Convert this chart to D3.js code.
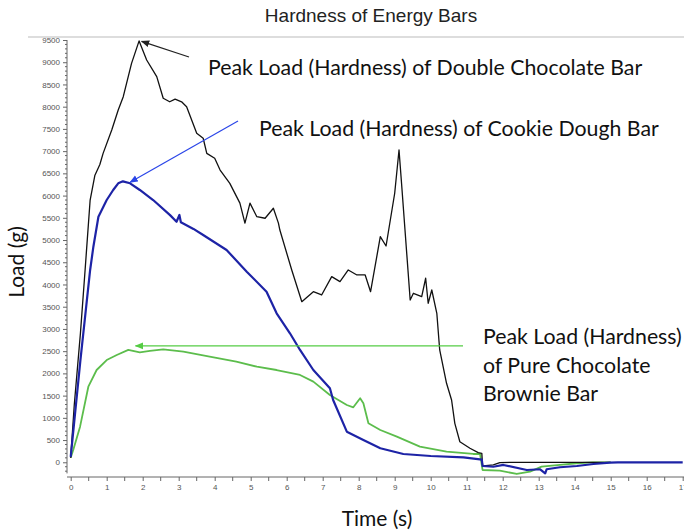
<!DOCTYPE html>
<html>
<head>
<meta charset="utf-8">
<script src="https://cdn.jsdelivr.net/npm/d3@7"></script>
<style>
  body { margin: 0; background: #fff; }
  .tick text { font-family: "Liberation Sans", Arial, sans-serif; font-size: 8px; fill: #555; }
  .axis path, .axis line { stroke: #666; }
</style>
</head>
<body>
<div id="chart-area"></div>
<script>
const WIDTH = 684
const HEIGHT = 531

// double chocolate bar (black)
const chocTime = [0, 0.1, 0.27, 0.4, 0.54, 0.67, 0.81, 0.9, 1.14, 1.32, 1.46, 1.69, 1.9, 2.11, 2.39, 2.57, 2.75, 2.9, 3.08, 3.22, 3.5, 3.68, 3.78, 4.0, 4.15, 4.42, 4.7, 4.84, 4.98, 5.17, 5.4, 5.63, 5.77, 5.81, 6.14, 6.42, 6.74, 6.97, 7.25, 7.48, 7.71, 7.95, 8.18, 8.33, 8.6, 8.76, 9.0, 9.12, 9.19, 9.43, 9.52, 9.75, 9.86, 9.93, 10.03, 10.17, 10.25, 10.44, 10.58, 10.67, 10.81, 11.09, 11.32, 11.42, 11.44, 11.46, 11.74, 11.92, 12.2, 15]
const chocLoad = [100, 1300, 2900, 4326, 5900, 6450, 6700, 6950, 7475, 7925, 8225, 8975, 9480, 9050, 8675, 8190, 8110, 8170, 8110, 8000, 7400, 7290, 6950, 6840, 6575, 6275, 5830, 5380, 5830, 5525, 5490, 5715, 5380, 5225, 4325, 3613, 3838, 3764, 4176, 4064, 4326, 4214, 4214, 3838, 5075, 4866, 6052, 7025, 6277, 3651, 3802, 3726, 4140, 3577, 3876, 3352, 2527, 1777, 1402, 877, 463, 315, 216, 200, -60, -83, -60, -9, 0, 0]

// cookie dough bar (blue)
const cookieTime = [0, 0.27, 0.54, 0.63, 0.77, 1.0, 1.18, 1.32, 1.45, 1.65, 1.92, 2.29, 2.76, 2.94, 3.02, 3.06, 3.41, 3.68, 4.33, 4.89, 5.44, 5.72, 6.09, 6.37, 6.74, 7.2, 7.29, 7.67, 8.13, 8.6, 9.24, 10.0, 10.91, 11.37, 11.42, 11.44, 11.74, 12.02, 12.67, 13.04, 13.18, 13.22, 13.59, 14.06, 14.52, 14.98, 15.2, 17]
const cookieLoad = [120, 2300, 4326, 4850, 5525, 5900, 6126, 6276, 6320, 6276, 6126, 5900, 5560, 5412, 5563, 5400, 5250, 5112, 4776, 4288, 3838, 3352, 2902, 2527, 2076, 1665, 1402, 689, 502, 315, 187, 142, 112, 67, 60, -83, -100, -60, -173, -157, -247, -157, -112, -83, -38, -9, 0, 0]

// pure chocolate brownie bar (green)
const brownieTime = [0, 0.07, 0.26, 0.49, 0.72, 1.0, 1.28, 1.6, 1.92, 2.2, 2.57, 3.13, 3.86, 4.6, 5.17, 5.72, 6.37, 6.74, 7.2, 7.67, 7.85, 8.04, 8.13, 8.27, 8.6, 9.06, 9.7, 10.44, 11.18, 11.37, 11.44, 11.92, 12.39, 12.76, 13.08, 13.59, 14.06, 14.5, 15]
const brownieLoad = [100, 277, 801, 1700, 2076, 2300, 2414, 2530, 2474, 2504, 2542, 2488, 2376, 2263, 2151, 2076, 1964, 1814, 1514, 1289, 1237, 1440, 1327, 877, 727, 576, 351, 238, 187, 187, -173, -189, -263, -211, -99, -60, -22, 0, 0]

const yTicks = d3.range(0, 9501, 500)
const xTicks = d3.range(0, 18, 1)

const svg = d3.select("#chart-area").append("svg")
  .attr("width", WIDTH)
  .attr("height", HEIGHT)
  .style("font-family", "Lato, sans-serif")

// scales
const x = d3.scaleLinear().domain([0, 17]).range([70.7, 682.7])
const y = d3.scaleLinear().domain([-250, 9500]).range([473.4, 40])

// light frame line at the top
svg.append("line")
  .attr("x1", 28).attr("x2", WIDTH)
  .attr("y1", 37).attr("y2", 37)
  .attr("stroke", "#ddd").attr("stroke-width", 2)

svg.append("text")
  .attr("x", 371).attr("y", 22)
  .attr("text-anchor", "middle")
  .attr("font-family", "Liberation Sans, Arial, sans-serif")
  .attr("font-size", "19px")
  .attr("fill", "#222")
  .text("Hardness of Energy Bars")

// axes
const yAxis = svg.append("g")
  .attr("class", "axis")
  .attr("transform", "translate(67,0)")
  .call(d3.axisLeft(y).tickValues(yTicks).tickFormat(d3.format("d")).tickSize(4).tickSizeOuter(0))
yAxis.select(".domain").attr("d", `M0,${y(-250)}V${y(9500)}`)
yAxis.selectAll(".minor").data(d3.range(-200, 9500, 100).filter(d => d % 500 !== 0))
  .enter().append("line")
  .attr("x1", -2).attr("x2", 0)
  .attr("y1", d => y(d)).attr("y2", d => y(d))
  .attr("stroke", "#666")

const xAxis = svg.append("g")
  .attr("class", "axis")
  .attr("transform", "translate(0,477)")
  .call(d3.axisBottom(x).tickValues(xTicks).tickFormat(d3.format("d")).tickSize(4).tickSizeOuter(0).tickPadding(3))
xAxis.select(".domain").attr("d", `M67,0H${WIDTH}`)
xAxis.selectAll(".minor").data(d3.range(0.5, 17, 1))
  .enter().append("line")
  .attr("x1", d => x(d)).attr("x2", d => x(d))
  .attr("y1", 0).attr("y2", 4)
  .attr("stroke", "#666")

// lines
const line = d3.line()
  .x(d => x(d[0]))
  .y(d => y(d[1]))

const series = [
  { time: brownieTime, load: brownieLoad, color: "#5cbd4c", width: 1.8 },
  { time: chocTime, load: chocLoad, color: "#111", width: 1.3 },
  { time: cookieTime, load: cookieLoad, color: "#1d23a6", width: 2.2 }
]
series.forEach(s => {
  svg.append("path")
    .attr("fill", "none")
    .attr("stroke", s.color)
    .attr("stroke-width", s.width)
    .attr("stroke-linejoin", "round")
    .attr("d", line(s.time.map((t, i) => [t, s.load[i]])))
})

// arrow annotations
const defs = svg.append("defs")
function marker(id, color) {
  defs.append("marker")
    .attr("id", id)
    .attr("viewBox", "0 0 10 10")
    .attr("refX", 9).attr("refY", 5)
    .attr("markerWidth", 7).attr("markerHeight", 7)
    .attr("orient", "auto")
    .append("path")
    .attr("d", "M0,1L10,5L0,9Z")
    .attr("fill", color)
}
marker("arrow-black", "#222")
marker("arrow-blue", "#2a45e8")
marker("arrow-green", "#55cc44")

function arrow(x1, y1, x2, y2, color, id) {
  svg.append("line")
    .attr("x1", x1).attr("y1", y1)
    .attr("x2", x2).attr("y2", y2)
    .attr("stroke", color).attr("stroke-width", 1.2)
    .attr("marker-end", `url(#${id})`)
}
arrow(189, 57, x(1.97), y(9470), "#222", "arrow-black")
arrow(238, 121, x(1.65), y(6300), "#2a45e8", "arrow-blue")
arrow(463, y(2620), x(1.8), y(2620), "#55cc44", "arrow-green")

// annotation labels
const label = (tx, ty, str) => svg.append("text")
  .attr("x", tx).attr("y", ty)
  .attr("font-size", "21.3px")
  .attr("fill", "#111")
  .text(str)
label(208, 75, "Peak Load (Hardness) of Double Chocolate Bar")
label(259, 136, "Peak Load (Hardness) of Cookie Dough Bar")
label(483, 344, "Peak Load (Hardness)")
label(483, 373, "of Pure Chocolate")
label(483, 401, "Brownie Bar")

// axis labels
svg.append("text")
  .attr("x", 377).attr("y", 526)
  .attr("text-anchor", "middle")
  .attr("font-size", "21px")
  .attr("fill", "#111")
  .text("Time (s)")
svg.append("text")
  .attr("transform", "rotate(-90)")
  .attr("x", -262).attr("y", 24)
  .attr("text-anchor", "middle")
  .attr("font-size", "21px")
  .attr("fill", "#111")
  .text("Load (g)")
</script>
</body>
</html>
